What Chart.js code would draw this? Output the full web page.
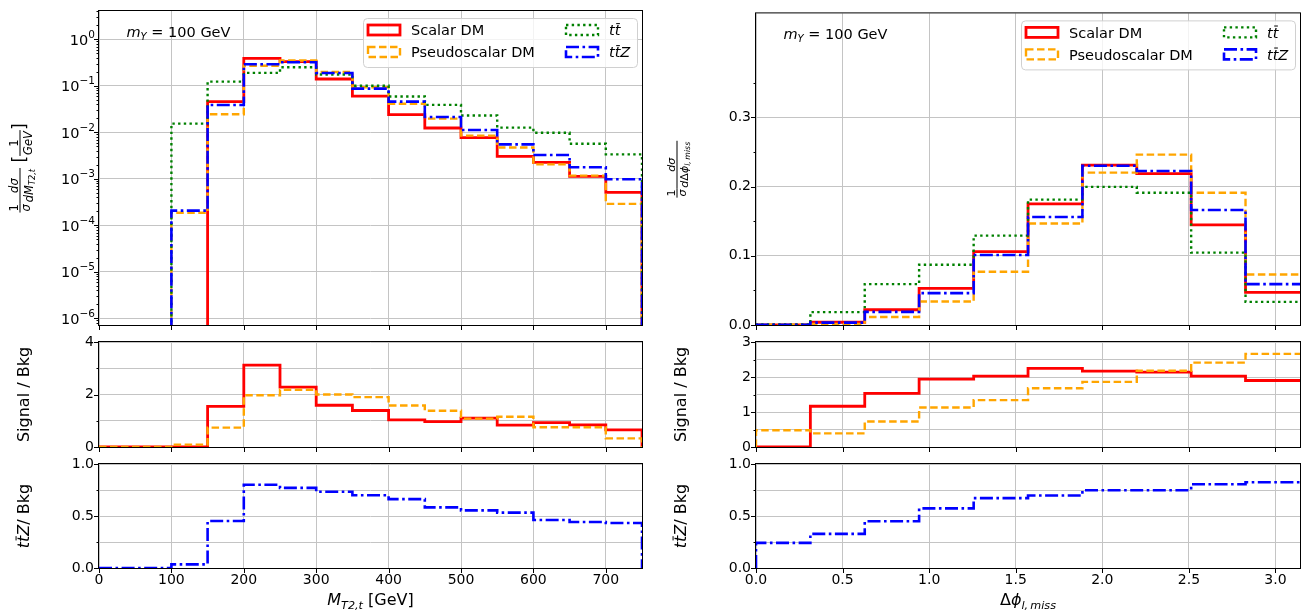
<!DOCTYPE html>
<html>
<head>
<meta charset="utf-8">
<script src="https://cdn.jsdelivr.net/npm/chart.js@4.4.0/dist/chart.umd.min.js"></script>
<style>
  html, body { margin: 0; padding: 0; background: #fff; }
  #page { position: relative; width: 1304px; height: 613px; overflow: hidden; }
  #page canvas { position: absolute; left: 0; top: 0; }
</style>
</head>
<body>
<div id="page">
  <canvas id="mt2Main" width="1304" height="613"></canvas>
  <canvas id="mt2Sig" width="1304" height="613"></canvas>
  <canvas id="mt2Ttz" width="1304" height="613"></canvas>
  <canvas id="dphiMain" width="1304" height="613"></canvas>
  <canvas id="dphiSig" width="1304" height="613"></canvas>
  <canvas id="dphiTtz" width="1304" height="613"></canvas>
</div>
<script>
// M_T2,t distributions, 50 GeV bins
const mt2Edges = [0, 50, 100, 150, 200, 250, 300, 350, 400, 450, 500, 550, 600, 650, 700, 750];
const mt2Ticks = [0, 100, 200, 300, 400, 500, 600, 700];
const mt2Scalar = [0, 0, 0, 0.0457, 0.39, 0.33, 0.140, 0.060, 0.024, 0.0124, 0.0077, 0.00305, 0.00226, 0.00113, 0.00051];
const mt2Pseudo = [0, 0, 1.87e-4, 0.0244, 0.27, 0.35, 0.198, 0.093, 0.041, 0.0197, 0.0085, 0.0047, 0.00205, 0.00117, 2.9e-4];
const mt2Ttbar = [0, 0, 0.0154, 0.123, 0.19, 0.25, 0.175, 0.10, 0.059, 0.039, 0.023, 0.0126, 0.0098, 0.0057, 0.00336];
const mt2Ttz = [0, 0, 2.07e-4, 0.0387, 0.29, 0.32, 0.189, 0.087, 0.0457, 0.0214, 0.0112, 0.0055, 0.00326, 0.00177, 0.00098];
const mt2SigBkgScalar = [0, 0, 0, 1.55, 3.12, 2.28, 1.59, 1.39, 1.03, 0.97, 1.10, 0.83, 0.93, 0.84, 0.65];
const mt2SigBkgPseudo = [0, 0, 0.09, 0.74, 1.97, 2.18, 2.0, 1.9, 1.58, 1.38, 1.08, 1.15, 0.75, 0.75, 0.33];
const mt2TtzBkg = [0, 0, 0.035, 0.452, 0.80, 0.77, 0.733, 0.70, 0.662, 0.583, 0.554, 0.532, 0.462, 0.443, 0.433];

// delta phi(l, miss) distributions, pi/10 bins
const dphiEdges = [0, 0.314, 0.628, 0.942, 1.257, 1.571, 1.885, 2.199, 2.513, 2.827, 3.1416];
const dphiTicks = [0, 0.5, 1.0, 1.5, 2.0, 2.5, 3.0];
const dphiScalar = [0, 0.004, 0.022, 0.053, 0.106, 0.175, 0.231, 0.2185, 0.1445, 0.047];
const dphiPseudo = [0.0006, 0.0015, 0.0115, 0.034, 0.077, 0.1465, 0.22, 0.246, 0.191, 0.073];
const dphiTtbar = [0.0008, 0.0186, 0.059, 0.087, 0.129, 0.181, 0.1995, 0.191, 0.1045, 0.0334];
const dphiTtz = [0.0004, 0.0035, 0.019, 0.046, 0.101, 0.156, 0.230, 0.2225, 0.166, 0.059];
const dphiSigBkgScalar = [0, 1.165, 1.53, 1.94, 2.025, 2.245, 2.17, 2.14, 2.025, 1.90];
const dphiSigBkgPseudo = [0.48, 0.39, 0.73, 1.13, 1.34, 1.68, 1.86, 2.18, 2.41, 2.66];
const dphiTtzBkg = [0.242, 0.328, 0.449, 0.573, 0.672, 0.697, 0.748, 0.748, 0.806, 0.825];

// y ticks
const mt2MainTicks = [1e-6, 1e-5, 1e-4, 1e-3, 1e-2, 1e-1, 1];
const dphiMainTicks = [0, 0.1, 0.2, 0.3];
const dphiMainMinor = [0.05, 0.15, 0.25, 0.35];
const mt2SigTicks = [0, 2, 4];
const mt2SigMinor = [1, 3];
const dphiSigTicks = [0, 1, 2, 3];
const dphiSigMinor = [0.5, 1.5, 2.5];
const ttzTicks = [0, 0.5, 1.0];
const ttzMinor = [0.25, 0.75];

const W = 1304, H = 613;
const FONT = '"DejaVu Sans", sans-serif';
const GRID = '#c4c4c4';
const LOG_FLOOR = 1e-12;
const Y_AXIS_W = 60;   // room kept for y tick labels
const X_AXIS_H = 26;   // room kept for x tick labels

const colLeft = { left: 99, right: 642 };
const colRight = { left: 756, right: 1300 };
const rowMain = { top: 11, bottom: 325 };
const rowSig = { top: 342, bottom: 447 };
const rowTtz = { top: 464, bottom: 568 };

const styles = {
    scalar: { color: '#ff0000', width: 2.8, dash: [], order: 4 },
    pseudo: { color: '#ffa500', width: 2.4, dash: [7.5, 3.5], order: 3 },
    ttbar: { color: '#008000', width: 2.4, dash: [2.4, 3.3], order: 2 },
    ttz: { color: '#0000ff', width: 2.6, dash: [13, 3.5, 2.6, 3.5], order: 1 }
};

Chart.defaults.font.family = FONT;
Chart.defaults.color = '#000';

// outline of a step histogram
function steps(edges, values, floor) {
    const pts = [{ x: edges[0], y: floor }];
    values.forEach(function (v, i) {
        const y = v > 0 ? v : floor;
        pts.push({ x: edges[i], y: y }, { x: edges[i + 1], y: y });
    });
    pts.push({ x: edges[edges.length - 1], y: floor });
    return pts;
}

function dataset(points, st) {
    return {
        data: points,
        borderColor: st.color,
        borderWidth: st.width,
        borderDash: st.dash,
        borderJoinStyle: 'miter',
        pointRadius: 0,
        fill: false,
        tension: 0,
        order: st.order
    };
}

// --- small mathtext-like text runs ---
function fnt(size, italic) { return (italic ? 'italic ' : '') + size + 'px ' + FONT; }
function tx(t, size, italic, dy) { return { t: t, font: fnt(size, italic), dy: dy || 0, size: size }; }
function tbar(t, size) { return { t: t, font: fnt(size, true), dy: 0, size: size, bar: true }; }
function frac(num, den) { return { num: num, den: den }; }

function itemWidth(c, it) {
    if (it.num) return Math.max(runWidth(c, it.num), runWidth(c, it.den)) + 2;
    c.font = it.font;
    return c.measureText(it.t).width;
}
function runWidth(c, items) {
    let w = 0;
    items.forEach(function (it) { w += itemWidth(c, it); });
    return w;
}
function runAscent(c, items) {
    let a = 0;
    items.forEach(function (it) {
        if (!it.t) return;
        c.font = it.font;
        a = Math.max(a, c.measureText(it.t).actualBoundingBoxAscent - it.dy);
    });
    return a;
}
function runDescent(c, items) {
    let d = 0;
    items.forEach(function (it) {
        if (!it.t) return;
        c.font = it.font;
        d = Math.max(d, c.measureText(it.t).actualBoundingBoxDescent + it.dy);
    });
    return d;
}
function drawRun(c, items, x, y) {
    items.forEach(function (it) {
        const w = itemWidth(c, it);
        if (it.num) {
            const barY = y - 5;
            c.fillRect(x, barY - 0.5, w, 1);
            drawRun(c, it.num, x + (w - runWidth(c, it.num)) / 2, barY - 2 - runDescent(c, it.num));
            drawRun(c, it.den, x + (w - runWidth(c, it.den)) / 2, barY + 2.5 + runAscent(c, it.den));
        } else {
            c.font = it.font;
            c.fillText(it.t, x, y + it.dy);
            if (it.bar) c.fillRect(x + 1.5, y - 0.84 * it.size, w - 2, 1);
        }
        x += w;
    });
}
function drawRotated(c, items, bx, cy) {
    c.save();
    c.translate(bx, cy);
    c.rotate(-Math.PI / 2);
    drawRun(c, items, -runWidth(c, items) / 2, 0);
    c.restore();
}

const tt = [tx('t', 14.5, true), tbar('t', 14.5)];
const legendEntries = [
    { st: styles.scalar, label: [tx('Scalar DM', 14.5)], col: 0, row: 0 },
    { st: styles.pseudo, label: [tx('Pseudoscalar DM', 14.5)], col: 0, row: 1 },
    { st: styles.ttbar, label: tt, col: 1, row: 0 },
    { st: styles.ttz, label: tt.concat([tx('Z', 14.5, true)]), col: 1, row: 1 }
];
const massNote = [tx('m', 14.5, true), tx('Y', 10, true, 2.8), tx(' = 100 GeV', 14.5)];

function drawLegend(c, a) {
    const w = 274, h = 49, x0 = a.right - 5 - w, y0 = a.top + 7;
    c.setLineDash([]);
    c.beginPath();
    c.roundRect(x0 + 0.5, y0 + 0.5, w, h, 4);
    c.fillStyle = 'rgba(255,255,255,0.8)';
    c.fill();
    c.strokeStyle = '#d0d0d0';
    c.lineWidth = 1;
    c.stroke();
    legendEntries.forEach(function (e) {
        const cy = y0 + (e.row ? 34 : 12);
        const hx = x0 + (e.col ? 203 : 5);
        c.strokeStyle = e.st.color;
        c.lineWidth = e.st.width;
        c.setLineDash(e.st.dash);
        c.strokeRect(hx, cy - 5, 32, 10);
        c.setLineDash([]);
        c.fillStyle = '#000';
        drawRun(c, e.label, x0 + (e.col ? 246 : 48), cy + 5.3);
    });
}

function logLabel(c, a, ys, v) {
    const k = Math.round(Math.log10(v));
    const sup = k < 0 ? '\u2212' + (-k) : String(k);
    const py = ys.getPixelForValue(v);
    c.font = fnt(14.5);
    const w1 = c.measureText('10').width;
    c.font = fnt(10.5);
    const w2 = c.measureText(sup).width;
    const x = a.left - 4 - w1 - w2;
    c.font = fnt(14.5);
    c.fillText('10', x, py + 5.2);
    c.font = fnt(10.5);
    c.fillText(sup, x + w1, py - 1.5);
}

// ticks, frame, axis labels, legend and note for one panel
function decor(cfg) {
    return {
        id: 'decor',
        afterDraw: function (chart) {
            const c = chart.ctx, a = chart.chartArea;
            const xs = chart.scales.x, ys = chart.scales.y;
            c.save();
            c.textAlign = 'left';
            c.textBaseline = 'alphabetic';
            c.strokeStyle = '#000';
            c.lineWidth = 1;
            c.setLineDash([]);
            c.beginPath();
            xs.ticks.forEach(function (t) {
                const px = Math.round(xs.getPixelForValue(t.value)) + 0.5;
                c.moveTo(px, a.bottom);
                c.lineTo(px, a.bottom + 5);
            });
            ys.ticks.forEach(function (t) {
                const py = Math.round(ys.getPixelForValue(t.value)) + 0.5;
                c.moveTo(a.left - (t.minor ? 2.5 : 5), py);
                c.lineTo(a.left, py);
            });
            c.stroke();
            c.strokeRect(a.left - 0.5, a.top - 0.5, a.right - a.left + 1, a.bottom - a.top + 1);

            c.fillStyle = '#000';
            if (cfg.logLabels) {
                ys.ticks.forEach(function (t) { if (!t.minor) logLabel(c, a, ys, t.value); });
            }
            if (cfg.yLabel) drawRotated(c, cfg.yLabel, cfg.yLabelX, (a.top + a.bottom) / 2);
            if (cfg.xLabel) {
                const w = runWidth(c, cfg.xLabel);
                drawRun(c, cfg.xLabel, (a.left + a.right) / 2 - w / 2, cfg.xLabelY);
            }
            if (cfg.note) drawRun(c, massNote, a.left + 27.5, a.top + 26);
            if (cfg.legend) drawLegend(c, a);
            c.restore();
        }
    };
}

function panel(id, col, row, p) {
    const yTicks = p.yMajor.map(function (v) { return { value: v }; })
        .concat((p.yMinor || []).map(function (v) { return { value: v, minor: true }; }));
    const tickFont = { family: FONT, size: 14 };
    new Chart(document.getElementById(id), {
        type: 'line',
        data: { datasets: p.datasets },
        options: {
            responsive: false,
            animation: false,
            events: [],
            layout: {
                autoPadding: false,
                padding: {
                    left: col.left - Y_AXIS_W,
                    right: W - col.right,
                    top: row.top,
                    bottom: H - row.bottom - X_AXIS_H
                }
            },
            plugins: { legend: { display: false }, tooltip: { enabled: false } },
            scales: {
                x: {
                    type: 'linear',
                    min: p.xMin,
                    max: p.xMax,
                    afterFit: function (s) { s.height = X_AXIS_H; },
                    afterBuildTicks: function (s) { s.ticks = p.xTicks.map(function (v) { return { value: v }; }); },
                    grid: { color: GRID, lineWidth: 1, drawTicks: false },
                    border: { display: false },
                    ticks: {
                        display: p.xLabels,
                        callback: function (v) { return v.toFixed(p.xDec); },
                        autoSkip: false,
                        maxRotation: 0,
                        padding: 4,
                        font: tickFont,
                        color: '#000'
                    }
                },
                y: {
                    type: p.yType || 'linear',
                    min: p.yMin,
                    max: p.yMax,
                    afterFit: function (s) { s.width = Y_AXIS_W; },
                    afterBuildTicks: function (s) { s.ticks = yTicks.map(function (t) { return Object.assign({}, t); }); },
                    grid: {
                        color: function (ctx) {
                            return ctx.tick && ctx.tick.minor && !p.minorGrid ? 'rgba(0,0,0,0)' : GRID;
                        },
                        lineWidth: 1,
                        drawTicks: false
                    },
                    border: { display: false },
                    ticks: {
                        display: p.yType !== 'logarithmic',
                        callback: function (v, i, ticks) { return ticks[i].minor ? '' : v.toFixed(p.yDec); },
                        autoSkip: false,
                        padding: 5,
                        font: tickFont,
                        color: '#000'
                    }
                }
            }
        },
        plugins: [decor(p.decor)]
    });
}

const mt2Main = {
    xMin: 0, xMax: 750, xTicks: mt2Ticks, xLabels: false, xDec: 0,
    yType: 'logarithmic', yMin: 7.2e-7, yMax: 4.06, yMajor: mt2MainTicks, yMinor: [],
    datasets: [
        dataset(steps(mt2Edges, mt2Scalar, LOG_FLOOR), styles.scalar),
        dataset(steps(mt2Edges, mt2Pseudo, LOG_FLOOR), styles.pseudo),
        dataset(steps(mt2Edges, mt2Ttbar, LOG_FLOOR), styles.ttbar),
        dataset(steps(mt2Edges, mt2Ttz, LOG_FLOOR), styles.ttz)
    ],
    decor: {
        logLabels: true, legend: true, note: true, yLabelX: 25,
        yLabel: [
            frac([tx('1', 11.5)], [tx('\u03c3', 11.5, true)]),
            frac([tx('d\u03c3', 11.5, true)], [tx('dM', 11.5, true), tx('T2,t', 8.2, true, 2.5)]),
            tx(' [', 17),
            frac([tx('1', 11.5)], [tx('GeV', 11.5, true)]),
            tx(']', 17)
        ]
    }
};
// minor decade ticks for the log axis
for (let k = -7; k <= 0; k++) {
    for (let m = 2; m <= 9; m++) {
        const v = m * Math.pow(10, k);
        if (v > mt2Main.yMin && v < mt2Main.yMax) mt2Main.yMinor.push(v);
    }
}
panel('mt2Main', colLeft, rowMain, mt2Main);

panel('mt2Sig', colLeft, rowSig, {
    xMin: 0, xMax: 750, xTicks: mt2Ticks, xLabels: false, xDec: 0,
    yMin: 0, yMax: 4, yMajor: mt2SigTicks, yMinor: mt2SigMinor, yDec: 0, minorGrid: true,
    datasets: [
        dataset(steps(mt2Edges, mt2SigBkgScalar, 0), styles.scalar),
        dataset(steps(mt2Edges, mt2SigBkgPseudo, 0), styles.pseudo)
    ],
    decor: { yLabel: [tx('Signal / Bkg', 16)], yLabelX: 29 }
});

panel('mt2Ttz', colLeft, rowTtz, {
    xMin: 0, xMax: 750, xTicks: mt2Ticks, xLabels: true, xDec: 0,
    yMin: 0, yMax: 1, yMajor: ttzTicks, yMinor: ttzMinor, yDec: 1, minorGrid: true,
    datasets: [dataset(steps(mt2Edges, mt2TtzBkg, 0), styles.ttz)],
    decor: {
        yLabel: [tx('t', 16, true), tbar('t', 16), tx('Z', 16, true), tx('/ Bkg', 16)], yLabelX: 29,
        xLabel: [tx('M', 16, true), tx('T2,t', 11.2, true, 3.5), tx(' [GeV]', 16)], xLabelY: 605
    }
});

panel('dphiMain', colRight, rowMain, {
    xMin: 0, xMax: Math.PI, xTicks: dphiTicks, xLabels: false, xDec: 1,
    yMin: 0, yMax: 0.45, yMajor: dphiMainTicks, yMinor: dphiMainMinor, yDec: 1,
    datasets: [
        dataset(steps(dphiEdges, dphiScalar, 0), styles.scalar),
        dataset(steps(dphiEdges, dphiPseudo, 0), styles.pseudo),
        dataset(steps(dphiEdges, dphiTtbar, 0), styles.ttbar),
        dataset(steps(dphiEdges, dphiTtz, 0), styles.ttz)
    ],
    decor: {
        legend: true, note: true, yLabelX: 682,
        yLabel: [
            frac([tx('1', 11)], [tx('\u03c3', 11, true)]),
            frac([tx('d\u03c3', 11, true)],
                 [tx('d', 11, true), tx('\u0394', 11), tx('\u03d5', 11, true), tx('l,\u2009miss', 7.8, true, 2.5)])
        ]
    }
});

panel('dphiSig', colRight, rowSig, {
    xMin: 0, xMax: Math.PI, xTicks: dphiTicks, xLabels: false, xDec: 1,
    yMin: 0, yMax: 3, yMajor: dphiSigTicks, yMinor: dphiSigMinor, yDec: 0, minorGrid: true,
    datasets: [
        dataset(steps(dphiEdges, dphiSigBkgScalar, 0), styles.scalar),
        dataset(steps(dphiEdges, dphiSigBkgPseudo, 0), styles.pseudo)
    ],
    decor: { yLabel: [tx('Signal / Bkg', 16)], yLabelX: 686 }
});

panel('dphiTtz', colRight, rowTtz, {
    xMin: 0, xMax: Math.PI, xTicks: dphiTicks, xLabels: true, xDec: 1,
    yMin: 0, yMax: 1, yMajor: ttzTicks, yMinor: ttzMinor, yDec: 1, minorGrid: true,
    datasets: [dataset(steps(dphiEdges, dphiTtzBkg, 0), styles.ttz)],
    decor: {
        yLabel: [tx('t', 16, true), tbar('t', 16), tx('Z', 16, true), tx('/ Bkg', 16)], yLabelX: 686,
        xLabel: [tx('\u0394', 16), tx('\u03d5', 16, true), tx('l,\u2009miss', 11.2, true, 3.5)], xLabelY: 605
    }
});
</script>
</body>
</html>
